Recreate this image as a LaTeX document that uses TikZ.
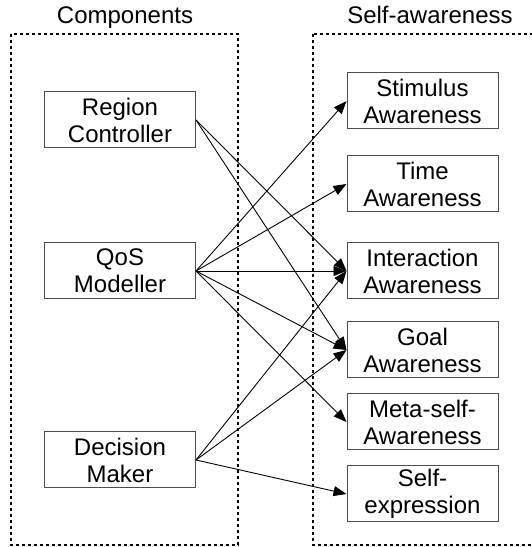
\documentclass[tikz,border=0pt]{standalone}
\usepackage{fontspec}
\setmainfont{Liberation Sans}
\usetikzlibrary{arrows.meta}

\tikzset{every node/.style={font=\fontsize{24}{27}\selectfont}}
\tikzstyle{comp}=[draw=black!70, line width=1pt, minimum width=151pt, minimum height=56pt, align=center, inner sep=0pt]
\tikzstyle{group}=[dash pattern=on 3pt off 3pt, line width=1.5pt]
\tikzstyle{link}=[-{Triangle[length=13pt,width=10pt]}, line width=0.9pt]

\begin{document}
\begin{tikzpicture}[x=1pt, y=1pt]
            \useasboundingbox (0,0) rectangle (531,547);
            \draw [group] (11,513) rectangle (238,2);
            \draw [group] (313,513) rectangle (545,2);
            \node [anchor=base] (comptitle) at (125,523) {Components};
            \node [anchor=base] (satitle) at (430,523) {Self-awareness};

            \node [comp] (region) at (120,427) {Region\\Controller};
            \node [comp] (qos) at (120,276) {QoS\\Modeller};
            \node [comp] (decision) at (120,87) {Decision\\Maker};

            \node [comp] (stimulus) at (422.5,446) {Stimulus\\Awareness};
            \node [comp] (time) at (422.5,363) {Time\\Awareness};
            \node [comp] (interaction) at (422.5,276) {Interaction\\Awareness};
            \node [comp] (goal) at (422.5,197) {Goal\\Awareness};
            \node [comp] (meta) at (422.5,125) {Meta-self-\\Awareness};
            \node [comp] (expression) at (422.5,53) {Self-\\expression};

            \draw [link] (region.east) -- (interaction.west);
            \draw [link] (region.east) -- (goal.west);
            \foreach \t in {stimulus, time, interaction, goal, meta}
                \draw [link] (qos.east) -- (\t.west);
            \foreach \t in {interaction, goal, expression}
                \draw [link] (decision.east) -- (\t.west);
        \end{tikzpicture}
\end{document}
